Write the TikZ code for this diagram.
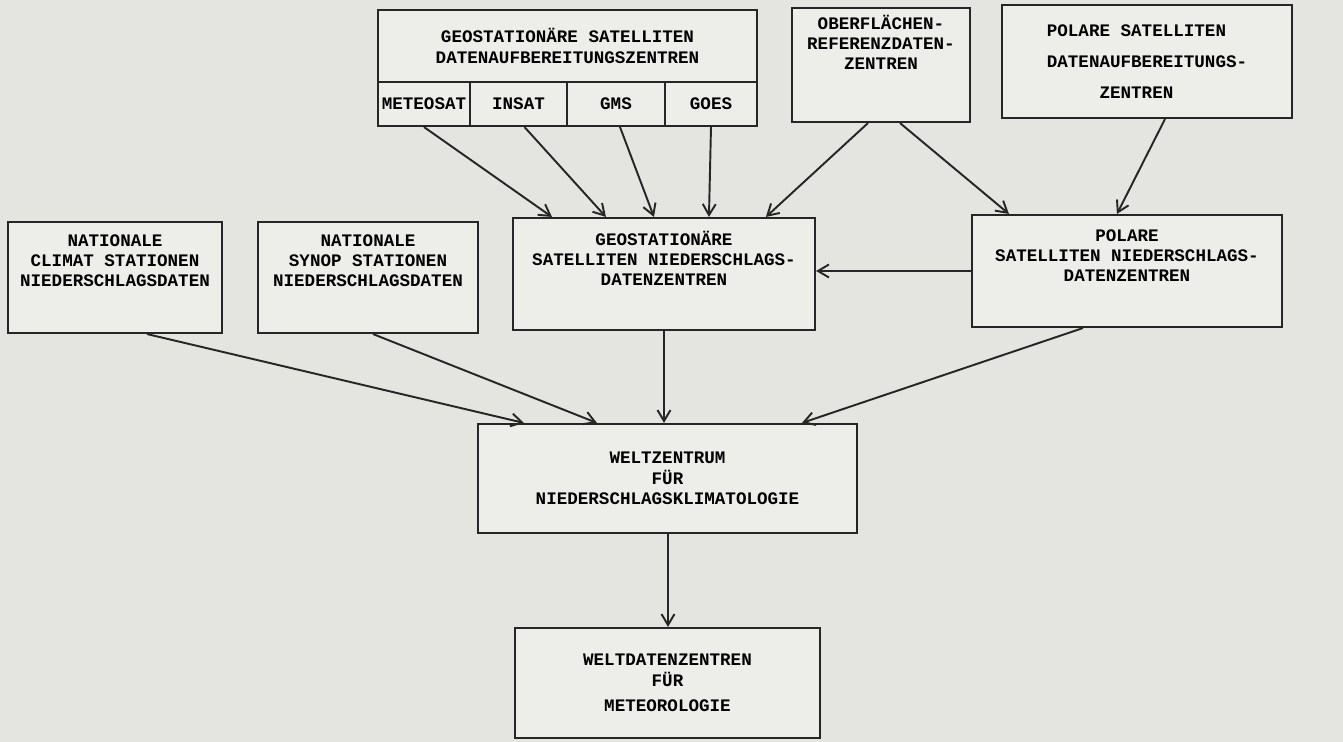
\documentclass[tikz,border=0pt]{standalone}
\usepackage{fontspec}
\setmainfont{Liberation Mono}
\usetikzlibrary{arrows.meta}
\definecolor{paper}{RGB}{228,228,224}
\definecolor{boxfill}{RGB}{237,237,233}
\definecolor{ink}{RGB}{38,38,38}
\tikzset{
  box/.style 2 args={draw=ink, fill=boxfill, line width=1.2pt, minimum width=#1*0.02cm, minimum height=#2*0.02cm, inner sep=1pt, align=center, font=\bfseries\fontsize{10}{11.5}\selectfont},
  flow/.style={draw=ink, line width=1.1pt, -{Straight Barb[length=2.2mm,width=2.6mm]}}
}
\begin{document}
\begin{tikzpicture}[x=0.02cm, y=-0.02cm]
            \pgfmathsetmacro{\px}{0.02};
            \useasboundingbox (0, 0) rectangle (1343, 742);
            \fill [paper] (0, 0) rectangle (1343, 742);
            % top row
            \node [box={379}{72}] (geotop) at (567.5, 46) {GEOSTATIONÄRE SATELLITEN\\DATENAUFBEREITUNGSZENTREN};
            \node [box={92}{44}] (met) at (424, 104) {METEOSAT};
            \node [box={97}{44}] (ins) at (518.5, 104) {INSAT};
            \node [box={98}{44}] (gms) at (616, 104) {GMS};
            \node [box={92}{44}] (goes) at (711, 104) {GOES};
            \node [box={178}{114}] (ober) at (881, 65) {OBERFLÄCHEN-\\REFERENZDATEN-\\ZENTREN\\[14pt]};
            \node [box={290}{113}, align=left] (poldaz) at (1147, 61.5) {POLARE SATELLITEN\\[6pt]DATENAUFBEREITUNGS-\\[6pt]\hspace*{3em}ZENTREN};
            % middle row
            \node [box={214}{111}] (climat) at (115, 277.5) {NATIONALE\\CLIMAT STATIONEN\\NIEDERSCHLAGSDATEN\\[8pt]};
            \node [box={220}{111}] (synop) at (368, 277.5) {NATIONALE\\SYNOP STATIONEN\\NIEDERSCHLAGSDATEN\\[8pt]};
            \node [box={302}{112}] (geons) at (664, 274) {GEOSTATIONÄRE\\SATELLITEN NIEDERSCHLAGS-\\DATENZENTREN\\[6pt]};
            \node [box={310}{112}] (polns) at (1127, 271) {POLARE\\SATELLITEN NIEDERSCHLAGS-\\DATENZENTREN\\[6pt]};
            % bottom
            \node [box={379}{109}] (welt) at (667.5, 478.5) {WELTZENTRUM\\FÜR\\NIEDERSCHLAGSKLIMATOLOGIE};
            \node [box={305}{110}] (wdz) at (667.5, 683) {WELTDATENZENTREN\\FÜR\\[3pt]METEOROLOGIE};
            % arrows
            \draw [flow] (met.south) -- ([xshift=40*\px cm]geons.north west);
            \draw [flow] ([xshift=6*\px cm]ins.south) -- ([xshift=94*\px cm]geons.north west);
            \draw [flow] ([xshift=4*\px cm]gms.south) -- ([xshift=142*\px cm]geons.north west);
            \draw [flow] (goes.south) -- ([xshift=197*\px cm]geons.north west);
            \draw [flow] ([xshift=-13*\px cm]ober.south) -- ([xshift=254*\px cm]geons.north west);
            \draw [flow] ([xshift=19*\px cm]ober.south) -- ([xshift=38*\px cm]polns.north west);
            \draw [flow] ([xshift=18*\px cm]poldaz.south) -- ([xshift=146*\px cm]polns.north west);
            \draw [flow] (polns.west) -- (polns.west -| geons.east);
            \draw [flow] ([xshift=32*\px cm]climat.south) -- ([xshift=47*\px cm]welt.north west);
            \draw [flow] ([xshift=5*\px cm]synop.south) -- ([xshift=120*\px cm]welt.north west);
            \draw [flow] (geons.south) -- (geons.south |- welt.north);
            \draw [flow] ([xshift=-44*\px cm]polns.south) -- ([xshift=325*\px cm]welt.north west);
            \draw [flow] ([xshift=0.5*\px cm]welt.south) -- ([xshift=0.5*\px cm]wdz.north);
\end{tikzpicture}
\end{document}
